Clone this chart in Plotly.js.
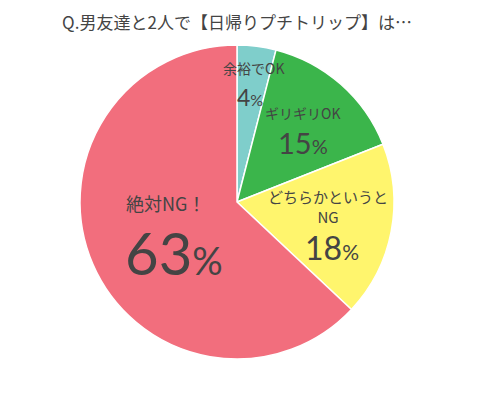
<!DOCTYPE html>
<html>
<head>
<meta charset="utf-8">
<script src="https://cdn.plot.ly/plotly-3.0.1.min.js"></script>
<style>
  html, body { margin: 0; padding: 0; background: #fff; }
  #chart { width: 478px; height: 401px; }
</style>
</head>
<body>
<div id="chart"></div>
<script>
// Survey answers, clockwise from 12 o'clock
const answers = ['余裕でOK', 'ギリギリOK', 'どちらかというと<br>NG', '絶対NG！'];
const shares = [4, 15, 18, 63];
const sliceColors = ['#7FCECB', '#3BB54B', '#FFF56D', '#F26E7D'];

// label layout: radius as fraction of pie radius, pixel nudges for name / number
const labelRadius = [0.77, 0.63, 0.6, 0.46];
const nameShift = [[1, -14], [0, -15], [-2, -13], [-5, -28]];
const numShift = [[-2, 15], [1, 15], [2, 28], [3, 22]];
const nameSize = [14, 14, 15, 18];
const numSize = [[23, 16], [29, 20], [32, 21], [58, 38]];

const textColor = '#444444';
const font = '"Noto Sans CJK JP", "Noto Sans", sans-serif';
const numFont = 'Lato, "Noto Sans", sans-serif';

const margin = { l: 80, r: 84, t: 45, b: 42 };

const total = shares.reduce((a, b) => a + b, 0);
const annotations = [];
let cum = 0;
shares.forEach((v, i) => {
    const mid = (cum + v / 2) / total * 2 * Math.PI;
    cum += v;
    const r = labelRadius[i] * 0.5;
    const x = 0.5 + r * Math.sin(mid);
    const y = 0.5 + r * Math.cos(mid);

    annotations.push({
        xref: 'paper', yref: 'paper', x: x, y: y,
        xanchor: 'center', yanchor: 'middle',
        xshift: nameShift[i][0], yshift: -nameShift[i][1],
        text: answers[i], showarrow: false, borderpad: 0,
        font: { family: font, size: nameSize[i], color: textColor }
    });
    annotations.push({
        xref: 'paper', yref: 'paper', x: x, y: y,
        xanchor: 'center', yanchor: 'middle',
        xshift: numShift[i][0], yshift: -numShift[i][1],
        text: `${v}<span style="font-size:${numSize[i][1]}px">%</span>`,
        showarrow: false, borderpad: 0,
        font: { family: numFont, size: numSize[i][0], color: textColor }
    });
});

const traces = [{
    type: 'pie',
    labels: answers,
    values: shares,
    sort: false,
    direction: 'clockwise',
    rotation: 0,
    marker: { colors: sliceColors, line: { color: '#ffffff', width: 1.5 } },
    textinfo: 'none',
    hoverinfo: 'skip',
    showlegend: false
}];

const layout = {
    width: 478,
    height: 401,
    margin: margin,
    paper_bgcolor: '#ffffff',
    title: {
        text: 'Q.男友達と2人で【日帰りプチトリップ】は…',
        font: { family: font, size: 17, color: textColor },
        x: 0.5, xref: 'paper',
        y: 1 - 23 / 401, yanchor: 'middle'
    },
    annotations: annotations,
    showlegend: false
};

Plotly.newPlot('chart', traces, layout, { displayModeBar: false, staticPlot: true });
</script>
</body>
</html>
